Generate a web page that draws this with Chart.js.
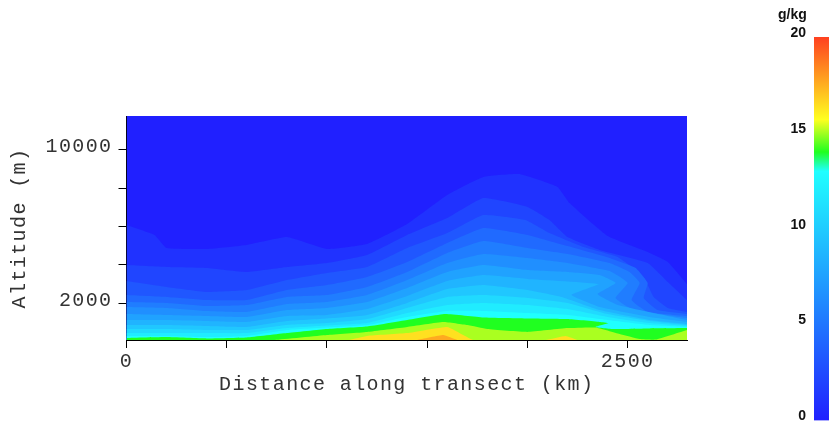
<!DOCTYPE html>
<html>
<head>
<meta charset="utf-8">
<style>
html,body{margin:0;padding:0;background:#fff;overflow:hidden}
#wrap{position:relative;width:838px;height:429px}
canvas{position:absolute;top:0}
#main{left:0}
#bar{left:770px}
</style>
<script src="https://cdn.jsdelivr.net/npm/chart.js@4"></script>
</head>
<body>
<div id="wrap"><canvas id="main" width="838" height="429"></canvas><canvas id="bar" width="68" height="429"></canvas></div>
<script>
// Specific humidity contours: each list is [distance km, altitude m] along the isopleth
const xRange = [0, 2796];
const yRange = [88, 11755];
const xTicks = [0, 500, 1000, 1500, 2000, 2500];
const yTicks = [2000, 4000, 6000, 8000, 10000];
const xTickLabels = ['0', '', '', '', '', '2500'];
const yTickLabels = ['2000', '', '', '', '10000'];
const xTitle = 'Distance along transect (km)';
const yTitle = 'Altitude (m)';
const barTitle = 'g/kg';
const barTicks = [0, 5, 10, 15, 20];

const level0 = [[0,11755],[2796,11755]];
const level1 = [[0,6080],[140,5560],[200,4880],[400,4830],[600,5040],[800,5450],[1000,4830],[1200,5090],[1400,6130],[1600,7640],[1780,8580],[1960,8730],[2150,8060],[2210,7220],[2400,5500],[2600,4670],[2700,4150],[2796,3000]];
const level2 = [[0,3990],[200,3890],[400,3840],[600,3630],[800,3890],[1000,4100],[1200,4520],[1400,5560],[1600,6440],[1780,7480],[2000,7020],[2110,6340],[2200,5450],[2360,4780],[2600,4100],[2700,3110],[2796,2170]];
const level3 = [[0,3160],[200,2850],[400,2590],[600,2690],[800,3210],[1000,3580],[1200,3890],[1400,4880],[1600,5660],[1780,6600],[1990,6340],[2110,5660],[2280,4930],[2450,4410],[2580,3370],[2630,2330],[2700,1760],[2796,1550]];
const level4 = [[0,2430],[200,2330],[400,2170],[600,2170],[800,2690],[1000,2950],[1200,3370],[1400,4150],[1600,5140],[1780,5920],[2000,5560],[2200,4980],[2410,4360],[2540,3840],[2600,3060],[2580,2280],[2650,1650],[2796,1440]];
const level5 = [[0,2070],[200,2020],[400,1860],[600,1910],[800,2330],[1000,2430],[1200,2850],[1400,3630],[1600,4620],[1780,5240],[2000,4880],[2200,4570],[2410,4100],[2510,3630],[2560,3060],[2520,2170],[2600,1550],[2796,1340]];
const level6 = [[0,1810],[200,1760],[400,1600],[600,1550],[800,1960],[1000,2070],[1200,2430],[1400,3210],[1600,4100],[1780,4570],[2000,4360],[2200,4100],[2410,3680],[2500,3060],[2440,2280],[2530,1650],[2796,1230]];
const level7 = [[0,1440],[200,1390],[400,1340],[600,1290],[800,1650],[1000,1760],[1200,2070],[1400,2800],[1600,3630],[1780,3990],[2000,3730],[2200,3630],[2360,3470],[2440,3060],[2350,2480],[2450,1910],[2796,1130]];
const level8 = [[0,1130],[200,1130],[400,1080],[600,1030],[800,1340],[1000,1390],[1200,1700],[1400,2380],[1600,3160],[1780,3470],[2000,3270],[2355,3000],[2220,2430],[2360,1810],[2610,1290],[2796,1030]];
const level9 = [[0,870],[200,870],[400,820],[600,770],[800,1080],[1000,1210],[1200,1390],[1400,2020],[1600,2740],[1780,2950],[2000,2690],[2170,2330],[2360,1650],[2610,1130],[2796,920]];
const level10 = [[0,660],[200,660],[400,610],[600,610],[800,870],[1000,970],[1200,1180],[1400,1760],[1600,2330],[1780,2430],[2000,2280],[2200,2020],[2400,1440],[2610,1080],[2796,870]];
const level11 = [[0,450],[200,450],[400,450],[600,450],[800,710],[1000,840],[1200,970],[1400,1490],[1600,1910],[1780,2020],[2000,1910],[2200,1700],[2400,1290],[2610,970],[2796,820]];
const level12 = [[0,300],[200,300],[400,240],[600,300],[800,610],[1000,740],[1200,870],[1400,1290],[1600,1600],[1780,1600],[2000,1490],[2200,1390],[2400,1130],[2610,870],[2796,770]];
const level13 = [[0,190],[200,240],[400,170],[600,220],[800,450],[1000,660],[1200,790],[1400,1130],[1590,1440],[1780,1260],[2000,1210],[2200,1180],[2360,1030],[2405,970],[2340,770],[2430,660],[2610,690],[2796,710]];
const level14 = [[740,90],[1000,350],[1200,510],[1400,770],[1580,1030],[1700,870],[1800,660],[2000,510],[2200,710],[2340,740],[2460,400],[2560,140],[2640,110],[2796,610]];
const level15 = [[1110,90],[1200,300],[1400,450],[1600,770],[1680,350],[1730,90],[2090,90],[2190,300],[2250,90]];
const level16 = [[1450,90],[1580,350],[1650,90]];

const contourLevels = [level0,level1,level2,level3,level4,level5,level6,level7,level8,level9,level10,level11,level12,level13,level14,level15,level16];
const contourColors = ['#2020ff','#2032ff','#2045ff','#2057ff','#206aff','#207dff','#208fff','#20a2ff','#20b4ff','#20c7ff','#20daff','#20ecff','#20ffff','#20ff20','#aaff20','#ffe020','#ffaa20'];
const barStopValues = [0, 13, 14, 15.7, 20];
const barStopColors = ['#2020ff', '#20ffff', '#20ff20', '#ffff20', '#ff4020'];

const inkFont = 'Liberation Mono';
const spacing = { id:'spacing',
  beforeDraw(c){ c.ctx.letterSpacing = '1.4px'; },
  afterDraw(c){ c.ctx.letterSpacing = '0px'; } };
function noPad(s){ s.paddingTop = s.paddingBottom = s.paddingLeft = s.paddingRight = 0; }

new Chart(document.getElementById('main'), {
  type:'line',
  plugins:[spacing],
  data:{ datasets: contourLevels.map((lv,i)=>({
    data: lv.map(p=>({x:p[0],y:p[1]})),
    backgroundColor: contourColors[i],
    borderWidth:0, pointRadius:0, tension:0.12, fill:'origin', order: contourLevels.length - i
  }))},
  options:{
    responsive:false, animation:false, events:[],
    layout:{padding:{left:0,top:116,right:151,bottom:0}},
    plugins:{legend:{display:false},tooltip:{enabled:false}},
    scales:{
      x:{ type:'linear', min:xRange[0], max:xRange[1],
        afterBuildTicks(s){ s.ticks = xTicks.map(v=>({value:v})); },
        afterFit(s){ s.height = 89; noPad(s); },
        grid:{drawOnChartArea:false,color:'#000',tickLength:8,tickWidth:1},
        border:{color:'#000',width:1},
        ticks:{ autoSkip:false, maxRotation:0, padding:2, color:'#333',
          font:{family:inkFont,size:20},
          callback(v){ return xTickLabels[xTicks.indexOf(v)]; } },
        title:{display:true,text:xTitle,color:'#333',font:{family:inkFont,size:20},padding:{top:0,bottom:32}}
      },
      y:{ min:yRange[0], max:yRange[1],
        afterBuildTicks(s){ s.ticks = yTicks.map(v=>({value:v})); },
        afterFit(s){ s.width = 126.5; noPad(s); },
        grid:{drawOnChartArea:false,color:'#000',tickLength:8,tickWidth:1},
        border:{color:'#000',width:1},
        ticks:{ autoSkip:false, padding:6, color:'#333',
          font:{family:inkFont,size:20,lineHeight:'6px'},
          callback(v){ const t = yTickLabels[yTicks.indexOf(v)]; return t ? [t,''] : ''; } },
        title:{display:true,text:yTitle,color:'#333',font:{family:inkFont,size:20},padding:{top:8,bottom:0}}
      }
    }
  }
});

new Chart(document.getElementById('bar'), {
  type:'bar',
  data:{ labels:[''], datasets:[{
    data:[barTicks[barTicks.length-1]],
    barPercentage:1, categoryPercentage:1, borderWidth:0,
    backgroundColor(ctx){
      const s = ctx.chart.scales.y;
      const y0 = s ? s.getPixelForValue(0) : NaN;
      const y1 = s ? s.getPixelForValue(20) : NaN;
      if(!isFinite(y0) || !isFinite(y1)) return barStopColors[0];
      const g = ctx.chart.ctx.createLinearGradient(0,y0,0,y1);
      barStopValues.forEach((v,i)=>g.addColorStop(v/20,barStopColors[i]));
      return g;
    }
  }]},
  options:{
    responsive:false, animation:false, events:[],
    layout:{padding:{left:8,top:6.6,right:9,bottom:8.5}},
    plugins:{legend:{display:false},tooltip:{enabled:false},
      title:{display:true,text:barTitle,align:'start',color:'#111',
        font:{family:'Liberation Sans',size:14,weight:'bold'},padding:{top:0,bottom:13.6}}},
    scales:{
      x:{display:false},
      y:{ min:0,max:20,
        afterBuildTicks(s){ s.ticks = barTicks.map(v=>({value:v})); },
        afterFit(s){ s.width = 36; noPad(s); },
        grid:{display:false,drawTicks:false}, border:{display:false},
        ticks:{ padding:8, color:'#111', autoSkip:false,
          font:{family:'Liberation Sans',size:14,weight:'bold',lineHeight:'8px'},
          callback(v){ return [String(v),'']; } }
      }
    }
  }
});
</script>
</body>
</html>
